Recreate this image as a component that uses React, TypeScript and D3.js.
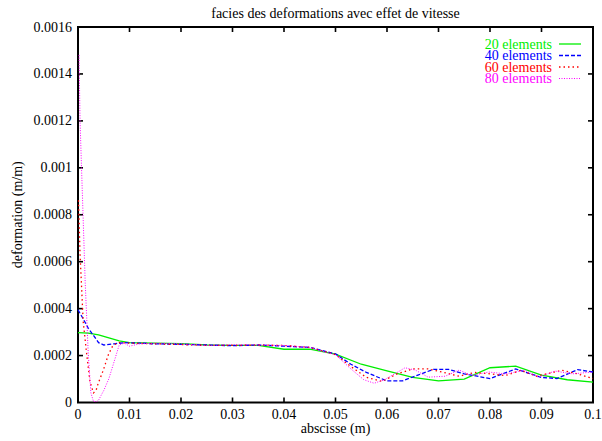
import React, { useEffect, useRef } from "react";
import * as d3 from "d3";

const xTicks = [0, 0.01, 0.02, 0.03, 0.04, 0.05, 0.06, 0.07, 0.08, 0.09, 0.1];
const yTicks = [0, 0.0002, 0.0004, 0.0006, 0.0008, 0.001, 0.0012, 0.0014, 0.0016];
const seriesNames = ["20 elements", "40 elements", "60 elements", "80 elements"];

const green20: [number, number][] = [
  [0, 0.000298], [0.002, 0.000296], [0.004, 0.000288], [0.006, 0.000275], [0.008, 0.000263],
  [0.01, 0.000255], [0.015, 0.000253], [0.02, 0.000251], [0.025, 0.000245], [0.03, 0.000243],
  [0.035, 0.000243], [0.04, 0.000227], [0.045, 0.000227], [0.05, 0.000206], [0.055, 0.000163],
  [0.06, 0.000135], [0.065, 0.000107], [0.07, 0.000092], [0.075, 0.0001], [0.08, 0.000148],
  [0.085, 0.000155], [0.09, 0.000117], [0.095, 0.000097], [0.1, 0.000087],
];

const blue40: [number, number][] = [
  [0, 0.000395], [0.001, 0.000357], [0.002, 0.000316], [0.003, 0.000286], [0.004, 0.000255],
  [0.005, 0.000245], [0.007, 0.00025], [0.009, 0.000255], [0.012, 0.000253], [0.015, 0.00025],
  [0.02, 0.000248], [0.025, 0.000245], [0.03, 0.000242], [0.035, 0.000245], [0.04, 0.00024],
  [0.045, 0.000235], [0.05, 0.000207], [0.053, 0.000163], [0.056, 0.000128], [0.06, 0.000092],
  [0.063, 0.000092], [0.066, 0.000117], [0.069, 0.000141], [0.072, 0.000141], [0.075, 0.000122],
  [0.08, 0.000102], [0.085, 0.000143], [0.09, 0.000107], [0.093, 0.000102], [0.097, 0.00014],
  [0.1, 0.00013],
];

const red60: [number, number][] = [
  [0.0001, 0.000862], [0.0004, 0.000632], [0.001, 0.000347], [0.0017, 0.000204], [0.0023, 0.000092],
  [0.003, 0.000041], [0.0035, 0.000051], [0.0039, 0.00008], [0.0049, 0.000137], [0.0059, 0.000204],
  [0.0068, 0.000244], [0.008, 0.000255], [0.01, 0.000253], [0.015, 0.00025], [0.02, 0.000247],
  [0.025, 0.000243], [0.03, 0.000243], [0.035, 0.000245], [0.04, 0.000243], [0.045, 0.000235],
  [0.05, 0.000204], [0.053, 0.000153], [0.056, 0.000107], [0.059, 0.00009], [0.062, 0.000122],
  [0.065, 0.000143], [0.068, 0.000143], [0.071, 0.000128], [0.074, 0.000112], [0.077, 0.000128],
  [0.08, 0.000122], [0.083, 0.000115], [0.086, 0.000137], [0.089, 0.000112], [0.091, 0.000122],
  [0.094, 0.000137], [0.097, 0.000122], [0.1, 0.000102],
];

const magenta80: [number, number][] = [
  [0.0002, 0.00148], [0.0004, 0.0012], [0.0007, 0.00099], [0.001, 0.000785], [0.0014, 0.00051],
  [0.002, 0.000204], [0.0025, 0.000041], [0.003, 0.000005], [0.0035, 0.000003], [0.004, 0.00001],
  [0.0045, 0.000031], [0.005, 0.000051], [0.006, 0.000102], [0.007, 0.000173], [0.008, 0.000245],
  [0.009, 0.000253], [0.01, 0.00024], [0.012, 0.00025], [0.015, 0.000253], [0.02, 0.00025],
  [0.025, 0.000243], [0.03, 0.000247], [0.035, 0.000245], [0.04, 0.000243], [0.045, 0.000235],
  [0.048, 0.000214], [0.05, 0.000204], [0.053, 0.000143], [0.0555, 0.000097], [0.0575, 0.000082],
  [0.0595, 0.000097], [0.0615, 0.000122], [0.0635, 0.000148], [0.0655, 0.000138], [0.068, 0.000108],
  [0.0713, 0.000112], [0.074, 0.000138], [0.0765, 0.000115], [0.0797, 0.00013], [0.083, 0.000122],
  [0.0868, 0.000137], [0.0894, 0.000108], [0.0926, 0.000134], [0.096, 0.000122], [0.1, 0.00013],
];

const W = 602;
const H = 441;
const M = { left: 78, right: 593, top: 27, bottom: 402.5 };
const FONT = '"Liberation Serif", "Times New Roman", Times, serif';

export default function App() {
  const ref = useRef<SVGSVGElement>(null);

  useEffect(() => {
    const svg = d3.select(ref.current);
    svg.selectAll("*").remove();

    const x = d3.scaleLinear().domain([0, 0.1]).range([M.left, M.right]);
    const y = d3.scaleLinear().domain([0, 0.0016]).range([M.bottom, M.top]);

    svg.append("rect").attr("width", W).attr("height", H).attr("fill", "white");

    const styles = [
      { data: green20, color: "#00ee00", dash: null, width: 1.3 },
      { data: blue40, color: "#0000ff", dash: "4,2", width: 1.3 },
      { data: red60, color: "#ff0000", dash: "1.5,3", width: 1.3 },
      { data: magenta80, color: "#ff00ff", dash: "1,1.5", width: 1 },
    ];

    // ticks
    const tl = 5;
    const tg = svg.append("g").attr("stroke", "black").attr("stroke-width", 1.6);
    xTicks.forEach((t) => {
      if (t === 0 || t === 0.1) return;
      tg.append("line").attr("x1", x(t)).attr("x2", x(t)).attr("y1", M.bottom).attr("y2", M.bottom - tl);
      tg.append("line").attr("x1", x(t)).attr("x2", x(t)).attr("y1", M.top).attr("y2", M.top + tl);
    });
    yTicks.forEach((t) => {
      if (t === 0 || t === 0.0016) return;
      tg.append("line").attr("x1", M.left).attr("x2", M.left + tl).attr("y1", y(t)).attr("y2", y(t));
      tg.append("line").attr("x1", M.right).attr("x2", M.right - tl).attr("y1", y(t)).attr("y2", y(t));
    });

    svg
      .append("rect")
      .attr("x", M.left)
      .attr("y", M.top)
      .attr("width", M.right - M.left)
      .attr("height", M.bottom - M.top)
      .attr("fill", "none")
      .attr("stroke", "black")
      .attr("stroke-width", 2);

    const line = d3
      .line<[number, number]>()
      .x((d) => x(d[0]))
      .y((d) => y(d[1]));

    const g = svg.append("g");
    styles.forEach((s) => {
      const p = g
        .append("path")
        .attr("d", line(s.data))
        .attr("fill", "none")
        .attr("stroke", s.color)
        .attr("stroke-width", s.width);
      if (s.dash) p.attr("stroke-dasharray", s.dash);
    });

    const fmt = (v: number) => String(+v.toFixed(5));

    const tx = svg.append("g").style("font-family", FONT).attr("font-size", 14).attr("fill", "black");
    xTicks.forEach((t) => {
      tx.append("text").attr("x", x(t)).attr("y", 419).attr("text-anchor", "middle").text(fmt(t));
    });
    yTicks.forEach((t) => {
      tx.append("text").attr("x", M.left - 6).attr("y", y(t) + 4.5).attr("text-anchor", "end").text(fmt(t));
    });

    tx.append("text").attr("x", (M.left + M.right) / 2).attr("y", 433).attr("text-anchor", "middle").text("abscisse (m)");
    tx.append("text")
      .attr("transform", `translate(22, ${(M.top + M.bottom) / 2}) rotate(-90)`)
      .attr("text-anchor", "middle")
      .text("deformation (m/m)");
    tx.append("text").attr("x", (M.left + M.right) / 2).attr("y", 18).attr("text-anchor", "middle").text("facies des deformations avec effet de vitesse");

    // legend
    styles.forEach((s, i) => {
      const ly = 44 + i * 11.5;
      tx.append("text").attr("x", 552).attr("y", ly + 4.5).attr("text-anchor", "end").attr("fill", s.color).text(seriesNames[i]);
      const p = svg
        .append("line")
        .attr("x1", 559)
        .attr("x2", 581)
        .attr("y1", ly)
        .attr("y2", ly)
        .attr("stroke", s.color)
        .attr("stroke-width", s.width);
      if (s.dash) p.attr("stroke-dasharray", s.dash);
    });
  }, []);

  return (
    <svg
      ref={ref}
      width={W}
      height={H}
      style={{ position: "absolute", left: 0, top: 0, display: "block", fontFamily: FONT }}
    />
  );
}
